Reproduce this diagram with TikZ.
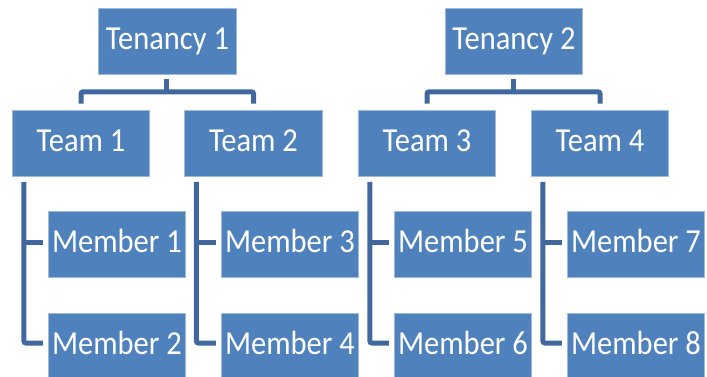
\documentclass[tikz,border=0pt]{standalone}
\usepackage{fontspec}
\setmainfont{Carlito}
\usetikzlibrary{calc}
\definecolor{boxblue}{RGB}{79,129,189}
\definecolor{connblue}{RGB}{64,104,158}
\tikzset{
  orgbox/.style={rectangle, fill=boxblue, draw=boxblue!55!white, line width=0.7pt,
    inner sep=0pt, minimum width=137.5pt, minimum height=66pt,
    text=white, text height=21.7pt, text depth=4pt,
    font=\fontsize{30.5}{36}\selectfont},
  conn/.style={draw=connblue, line width=5pt, rounded corners=2pt}
}
\newcommand{\bt}[1]{\scalebox{1}[1.1]{#1}}
\begin{document}
\begin{tikzpicture}[x=1pt,y=-1pt]
\useasboundingbox (0,0) rectangle (707,376);
% tenancies
\node[orgbox] (ten1) at (167.5,41) {\bt{Tenancy 1}};
\node[orgbox] (ten2) at (514,41) {\bt{Tenancy 2}};
% teams
\node[orgbox] (team1) at (81,143) {\bt{Team 1}};
\node[orgbox] (team2) at (253.5,143) {\bt{Team 2}};
\node[orgbox] (team3) at (427,143) {\bt{Team 3}};
\node[orgbox] (team4) at (600,143) {\bt{Team 4}};
% members
\node[orgbox] (m1) at (117,244) {\bt{Member 1}};
\node[orgbox] (m2) at (117,346) {\bt{Member 2}};
\node[orgbox] (m3) at (290,244) {\bt{Member 3}};
\node[orgbox] (m4) at (290,346) {\bt{Member 4}};
\node[orgbox] (m5) at (463,244) {\bt{Member 5}};
\node[orgbox] (m6) at (463,346) {\bt{Member 6}};
\node[orgbox] (m7) at (636,244) {\bt{Member 7}};
\node[orgbox] (m8) at (636,346) {\bt{Member 8}};
% tenancy -> teams
\foreach \t/\a/\b in {ten1/team1/team2, ten2/team3/team4}{
  \coordinate (s) at ($(\t.south)+(-1,5)$);
  \coordinate (j) at ($(\t.south)+(-1,17.5)$);
  \draw[conn] (s) -- (j);
  \draw[conn] ($(\a.north)+(0,-6)$) |- (j) -| ($(\b.north)+(0,-6)$);
}
% teams -> members
\foreach \t/\a/\b in {team1/m1/m2, team2/m3/m4, team3/m5/m6, team4/m7/m8}{
  \coordinate (v) at ($(\t.south west)+(12,5.5)$);
  \draw[conn] (v) |- ($(\b.west)+(-5,-3)$);
  \draw[conn] (v |- {$(\a.west)+(0,-2)$}) -- ($(\a.west)+(-5,-2)$);
}
\end{tikzpicture}
\end{document}
